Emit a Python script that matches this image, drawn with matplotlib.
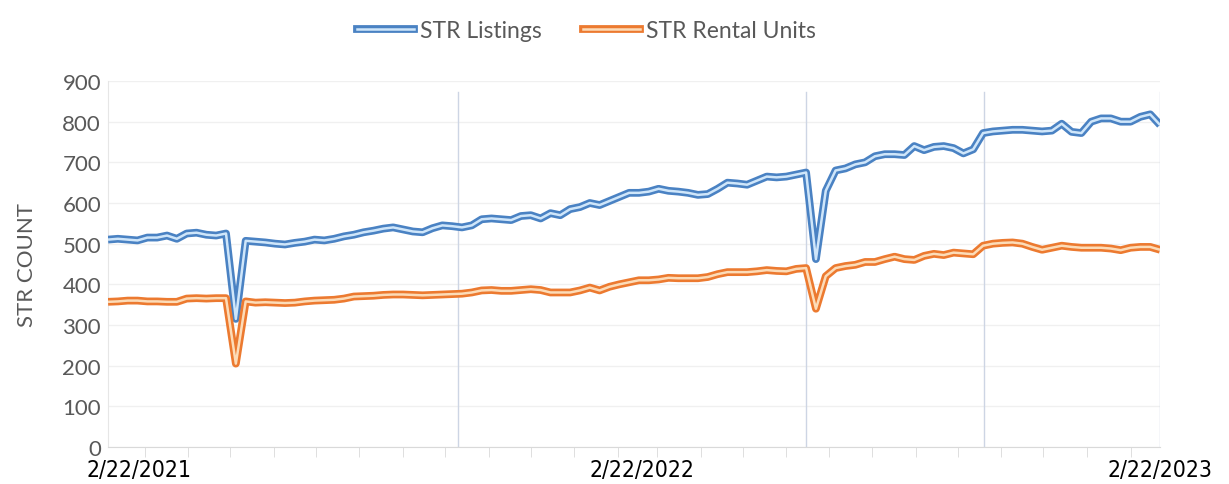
import matplotlib
matplotlib.use("Agg")
import matplotlib.pyplot as plt
import matplotlib.dates as mdates
from matplotlib.lines import Line2D
import numpy as np
import pandas as pd

# weekly counts, Feb 2021 - Feb 2023
weeks = pd.date_range("2021-02-03", periods=108, freq="7D")

str_listings = [
    510, 512, 510, 508, 515, 515, 520, 512, 525, 527,
    522, 520, 525, 315, 507, 505, 503, 500, 498, 502,
    505, 510, 508, 512, 518, 522, 528, 532, 537, 540,
    535, 530, 528, 538, 545, 543, 540, 545, 560, 562,
    560, 558, 568, 570, 562, 575, 570, 585, 590, 600,
    595, 605, 615, 625, 625, 628, 635, 630, 628, 625,
    620, 622, 635, 650, 648, 645, 655, 665, 663, 665,
    670, 675, 462, 630, 680, 685, 695, 700, 715, 720,
    720, 718, 740, 730, 738, 740, 735, 722, 732, 772,
    776, 778, 780, 780, 778, 776, 778, 795, 775, 772,
    800, 808, 808, 800, 800, 812, 818, 792,
]

str_rental_units = [
    357, 358, 360, 360, 358, 358, 357, 357, 365, 366,
    365, 366, 366, 205, 358, 355, 356, 355, 354, 355,
    358, 360, 361, 362, 365, 370, 371, 372, 374, 375,
    375, 374, 373, 374, 375, 376, 377, 380, 385, 386,
    384, 384, 386, 388, 386, 380, 380, 380, 385, 392,
    385, 394, 400, 405, 410, 410, 412, 416, 415, 415,
    415, 418, 425, 430, 430, 430, 432, 435, 433, 432,
    438, 440, 340, 420, 440, 445, 448, 455, 455, 462,
    468, 462, 460, 470, 475, 472, 478, 476, 474, 495,
    500, 502, 503, 500, 492, 485, 490, 495, 492, 490,
    490, 490, 488, 484, 490, 492, 492, 485,
]

label_dates = pd.to_datetime(["2021-02-25", "2022-02-18", "2023-02-22"])
label_text = ["2/22/2021", "2/22/2022", "2/22/2023"]
divider_dates = pd.to_datetime(["2021-10-10", "2022-06-15", "2022-10-20", "2023-02-22"])

BLUE_EDGE, BLUE_CORE = "#4a82c3", "#cfe6fa"
ORANGE_EDGE, ORANGE_CORE = "#ec7a30", "#fcdcb8"
OUTER_W, INNER_W = 5.6, 1.8

fig = plt.figure(figsize=(12.29, 4.85), dpi=100)
ax = fig.add_axes([0.0879, 0.0763, 0.8560, 0.7546])

ax.set_ylim(0, 900)
ax.set_xlim(weeks[0], pd.Timestamp("2023-02-22"))
ax.set_yticks(np.arange(0, 901, 100))
ax.grid(axis="y", color="#f0f0f0", linewidth=1)
ax.set_axisbelow(True)

for d in divider_dates:
    ax.axvline(d, ymin=0, ymax=0.97, color="#cdd5e4", linewidth=1, zorder=1)

# double-stroke lines: wide coloured stroke with a pale core
for series, edge, core in [(str_listings, BLUE_EDGE, BLUE_CORE),
                           (str_rental_units, ORANGE_EDGE, ORANGE_CORE)]:
    ax.plot(weeks, series, color=edge, linewidth=OUTER_W,
            solid_joinstyle="round", solid_capstyle="butt", zorder=3)
    ax.plot(weeks, series, color=core, linewidth=INNER_W,
            solid_joinstyle="round", solid_capstyle="butt", zorder=4)

for side in ["top", "right"]:
    ax.spines[side].set_visible(False)
ax.spines["left"].set_color("#e6e6e6")
ax.spines["bottom"].set_color("#d9d9d9")

ax.tick_params(axis="y", length=0, pad=5, labelsize=16, labelcolor="#595959")
for lbl in ax.get_yticklabels():
    lbl.set_fontfamily(["Lato", "DejaVu Sans"])

ax.set_xticks(label_dates)
ax.set_xticklabels(label_text, fontsize=16.5, color="black",
                   fontfamily=["DejaVu Sans"], fontstretch="condensed")
ax.tick_params(axis="x", length=0, pad=8)
ax.xaxis.set_minor_locator(mdates.MonthLocator())
ax.tick_params(axis="x", which="minor", length=7, color="#d9d9d9")

ax.set_ylabel("STR COUNT", fontsize=16, color="#595959",
              fontfamily=["Lato", "DejaVu Sans"], labelpad=18)

handles = [
    (Line2D([], [], color=BLUE_EDGE, linewidth=OUTER_W), Line2D([], [], color=BLUE_CORE, linewidth=INNER_W)),
    (Line2D([], [], color=ORANGE_EDGE, linewidth=OUTER_W), Line2D([], [], color=ORANGE_CORE, linewidth=INNER_W)),
]
fig.legend(handles, ["STR Listings", "STR Rental Units"], loc="upper center",
           bbox_to_anchor=(0.477, 1.0), ncol=2, frameon=False, handlelength=2.5,
           columnspacing=1.8, handletextpad=0.25,
           prop={"family": ["Lato", "DejaVu Sans"], "size": 16.5})
for t in fig.legends[0].get_texts():
    t.set_color("#595959")

fig.savefig("out.png", dpi=100)
